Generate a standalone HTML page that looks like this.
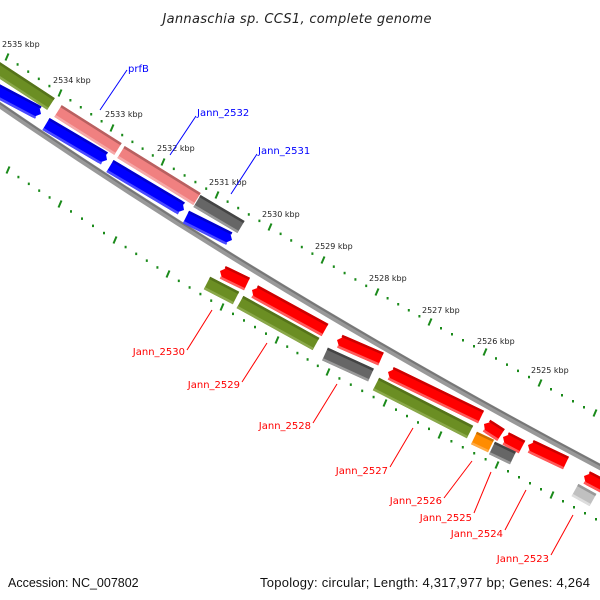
<!DOCTYPE html>
<html><head><meta charset="utf-8"><style>
html,body{margin:0;padding:0;background:#fff;width:600px;height:600px;overflow:hidden}
svg text{font-family:"DejaVu Sans","Liberation Sans",sans-serif}
svg text.lib{font-family:"Liberation Sans",sans-serif}
</style></head><body>
<svg id="s" width="600" height="600" xmlns="http://www.w3.org/2000/svg">
<rect width="600" height="600" fill="#fff"/>
<text x="297" y="23" font-size="13" font-style="italic" text-anchor="middle" fill="#222" textLength="269">Jannaschia sp. CCS1, complete genome</text>
<text class="lib" x="8" y="587" font-size="12.5" fill="#111">Accession: NC_007802</text>
<text class="lib" x="260" y="587" font-size="13" fill="#111" textLength="330">Topology: circular; Length: 4,317,977 bp; Genes: 4,264</text>
<path d="M-2,104 Q279,297 602,468" stroke="#999" stroke-width="6" fill="none"/>
<path d="M-2,102 Q279,295 602,466" stroke="#777" stroke-width="2" fill="none"/>
<g id="g"></g>
</svg>
<script>
var g=document.getElementById('g'),NS='http://www.w3.org/2000/svg';
function el(t,a,txt){var e=document.createElementNS(NS,t);for(var k in a)e.setAttribute(k,a[k]);if(txt)e.textContent=txt;g.appendChild(e);return e;}
function P(a){return a.map(function(p){return p[0].toFixed(1)+','+p[1].toFixed(1)}).join(' ');}
function bar(x1,y1,x2,y2,c,dk,lt,arr){
 var dx=x2-x1,dy=y2-y1,L=Math.hypot(dx,dy),ux=dx/L,uy=dy/L,nx=-uy,ny=ux,h=7,a=6;
 function pt(x,y,s,t){return [x+ux*t+nx*s,y+uy*t+ny*s];}
 var pts;
 if(arr==='r'){pts=[pt(x1,y1,-h,0),pt(x2,y2,-h,-a),pt(x2,y2,0,0),pt(x2,y2,h,-a),pt(x1,y1,h,0)];}
 else if(arr==='l'){pts=[pt(x1,y1,0,0),pt(x1,y1,-h,a),pt(x2,y2,-h,0),pt(x2,y2,h,0),pt(x1,y1,h,a)];}
 else pts=[pt(x1,y1,-h,0),pt(x2,y2,-h,0),pt(x2,y2,h,0),pt(x1,y1,h,0)];
 el('polygon',{points:P(pts),fill:c});
 var s0=arr==='l'?a*0.5:0,s1=arr==='r'?-a*0.5:0;
 el('polygon',{points:P([pt(x1,y1,-h,s0),pt(x2,y2,-h,s1),pt(x2,y2,-h+2.5,s1),pt(x1,y1,-h+2.5,s0)]),fill:dk});
 el('polygon',{points:P([pt(x1,y1,h-2.5,s0),pt(x2,y2,h-2.5,s1),pt(x2,y2,h,s1),pt(x1,y1,h,s0)]),fill:lt});
}
var OL=['#6b8e23','#55731a','#8aa84a'],BL=['#0000ff','#0000cc','#4a4aff'],PK=['#f08080','#b86060','#f6a8a8'],
GR=['#666','#444','#999'],RD=['#ff0000','#cc0000','#ff5a5a'],OR=['#ff8c00','#cc7000','#ffaa44'],LG=['#c0c0c0','#999','#ddd'];
function B(x1,y1,x2,y2,C,a){bar(x1,y1,x2,y2,C[0],C[1],C[2],a);}
B(-10,64,51,104,OL);
B(-10,87,41,114,BL,'r');
B(58,111,118,149,PK);
B(121,152,197,199,PK);
B(197,201,241,227,GR);
B(46,124,107,160,BL,'r');
B(110,166,184,210,BL,'r');
B(186,217,232,240,BL,'r');
B(220,271,247,284,RD,'l');
B(207,283,236,298,OL);
B(252,290,325,330,RD,'l');
B(240,302,316,344,OL);
B(337,340,381,359,RD,'l');
B(325,354,371,375,GR);
B(388,372,481,417,RD,'l');
B(376,384,470,432,OL);
B(484,424,501,435,RD,'l');
B(503,437,522,447,RD,'l');
B(474,438,491,446,OR);
B(492,448,513,458,GR);
B(528,445,566,463,RD,'l');
B(584,476,620,495,RD,'l');
B(575,490,593,500,LG);
function ticks(M){
 for(var i=0;i<M.length;i++){
  var p=M[i];el('line',{x1:p[0]-1.5,y1:p[1]+3.5,x2:p[0]+1.5,y2:p[1]-3.5,stroke:'#1a8a1a','stroke-width':2});
  if(i<M.length-1){var q=M[i+1];for(var k=1;k<5;k++){var x=p[0]+(q[0]-p[0])*k/5,y=p[1]+(q[1]-p[1])*k/5;el('rect',{x:x-1,y:y-1,width:2,height:2.5,fill:'#1a8a1a'});}}
 }
}
ticks([[-46,22],[7,57],[60,93],[112,128],[163,162],[217,195],[270,227],[323,260],[377,292],[430,322],[485,352],[540,383],[595,413],[650,443]]);
ticks([[-46,136],[8,170],[60,204],[115,240],[168,274],[222,307],[277,340],[328,372],[385,403],[440,435],[497,465],[552,495],[607,525]]);
[[2,44,2535],[53,80,2534],[105,114,2533],[157,148,2532],[209,182,2531],[262,214,2530],[315,246,2529],[369,278,2528],[422,310,2527],[477,341,2526],[531,370,2525]].forEach(function(k){el('text',{x:k[0],y:k[1]+3,'font-size':8,fill:'#222'},k[2]+' kbp');});
[[100,110,127,70,'prfB',128,72],[170,155,196,116,'Jann_2532',197,116],[231,194,257,154,'Jann_2531',258,154]].forEach(function(l){
 el('line',{x1:l[0],y1:l[1],x2:l[2],y2:l[3],stroke:'#0000ff','stroke-width':1});
 el('text',{x:l[5],y:l[6],'font-size':10,fill:'#0000ff'},l[4]);});
[[187,350,212,310,'Jann_2530',185,355],[242,382,267,343,'Jann_2529',240,388],[313,423,337,384,'Jann_2528',311,429],
 [390,467,413,428,'Jann_2527',388,474],[444,498,472,461,'Jann_2526',442,504],[474,513,491,472,'Jann_2525',472,521],
 [505,530,526,490,'Jann_2524',503,537],[551,555,573,515,'Jann_2523',549,562]].forEach(function(l){
 el('line',{x1:l[0],y1:l[1],x2:l[2],y2:l[3],stroke:'#ff0000','stroke-width':1});
 el('text',{x:l[5],y:l[6],'font-size':10,fill:'#ff0000','text-anchor':'end'},l[4]);});
</script>
</body></html>
